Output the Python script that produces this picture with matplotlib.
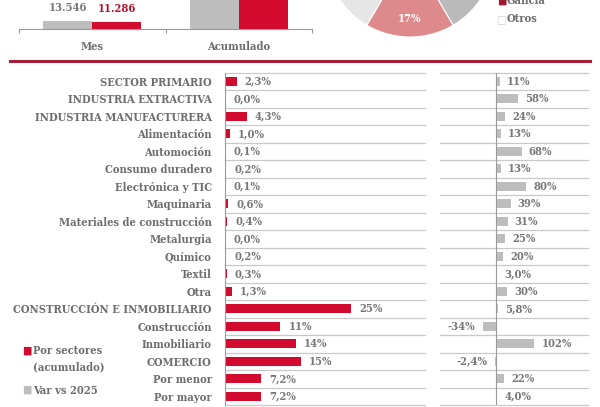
import numpy as np
import matplotlib
matplotlib.use('Agg')
import matplotlib.pyplot as plt
from matplotlib.lines import Line2D

# Bloque superior (cortado por arriba en la página)
periodos = ['Mes', 'Acumulado']
serie_gris = [13546, 98000]   # acumulado fuera de cuadro, valor estimado
serie_roja = [11286, 87000]
cuota_labels = ['Galicia', 'Resto', 'Otros']
cuota_vals = [17, 33, 50]

# Tabla por sectores
sectores = ['SECTOR PRIMARIO', 'INDUSTRIA EXTRACTIVA', 'INDUSTRIA MANUFACTURERA',
            'Alimentación', 'Automoción', 'Consumo duradero', 'Electrónica y TIC',
            'Maquinaria', 'Materiales de construcción', 'Metalurgia', 'Químico',
            'Textil', 'Otra', 'CONSTRUCCIÓN E INMOBILIARIO', 'Construcción',
            'Inmobiliario', 'COMERCIO', 'Por menor', 'Por mayor']
peso = [2.3, 0.0, 4.3, 1.0, 0.1, 0.2, 0.1, 0.6, 0.4, 0.0, 0.2, 0.3, 1.3,
        25, 11, 14, 15, 7.2, 7.2]
var_2025 = [11, 58, 24, 13, 68, 13, 80, 39, 31, 25, 20, 3.0, 30, 5.8,
            -34, 102, -2.4, 22, 4.0]

ROJO = '#d20a2e'
GRIS = '#bdbdbd'
TXT = '#6e6e6e'
LINEA = '#c9c9c9'
EJE = '#9a9a9a'

plt.rcParams['font.family'] = 'serif'
plt.rcParams['font.serif'] = ['DejaVu Serif']
plt.rcParams['font.weight'] = 'bold'
plt.rcParams['font.stretch'] = 'condensed'

W, H = 600, 407
fig = plt.figure(figsize=(6, 4.07), dpi=100)


def box(x0, y0, x1, y1):
    return [x0 / W, 1 - y1 / H, (x1 - x0) / W, (y1 - y0) / H]


def pct(v):
    if abs(v) < 10:
        return f'{v:.1f}%'.replace('.', ',')
    return f'{v:.0f}%'


def miles(v):
    return f'{v:,.0f}'.replace(',', '.')


# barras Mes / Acumulado
ax = fig.add_axes(box(19, 0, 312, 28.5))
x = np.arange(len(periodos)) + 0.5
w = 1 / 3
ax.bar(x - w / 2, serie_gris, w, color=GRIS)
ax.bar(x + w / 2, serie_roja, w, color=ROJO)
ax.set_xlim(0, 2)
ax.set_ylim(0, 51500)
for s in ['top', 'left', 'right']:
    ax.spines[s].set_visible(False)
ax.spines['bottom'].set_color(EJE)
ax.spines['bottom'].set_linewidth(0.8)
ax.set_yticks([])
ax.set_xticks([0, 1, 2])
ax.set_xticklabels([])
ax.tick_params(axis='x', which='major', length=3, color=EJE, width=0.8)
ax.set_xticks(x, minor=True)
ax.set_xticklabels(periodos, minor=True)
ax.tick_params(axis='x', which='minor', length=0, pad=9, labelsize=8, labelcolor=TXT)
ax.patch.set_alpha(0)
ax.annotate(miles(serie_gris[0]), (x[0] - w / 2, serie_gris[0]), xytext=(0, 14),
            textcoords='offset pixels', ha='center', va='center', fontsize=8, color='#777777')
ax.annotate(miles(serie_roja[0]), (x[0] + w / 2, serie_roja[0]), xytext=(0, 14),
            textcoords='offset pixels', ha='center', va='center', fontsize=8, color='#b5112c')

# tarta de cuota
axp = fig.add_axes(box(325, -133, 495, 37))
axp.pie(cuota_vals, colors=['#de8a8c', '#bababa', '#e6e6e6'],
        startangle=270 - cuota_vals[0] * 1.8,
        autopct=lambda p: f'{p:.0f}%' if p < 20 else '', pctdistance=0.78,
        wedgeprops=dict(edgecolor='white', linewidth=0.8),
        textprops=dict(color='white', fontsize=8))
axp.set_xlim(-1, 1)
axp.set_ylim(-1, 1)

fig.text(497 / W, 1 - 1 / H, '■', color='#9e1b34', fontsize=8, family='DejaVu Sans', va='center')
fig.text(507 / W, 1 - 1 / H, cuota_labels[0], color=TXT, fontsize=8, va='center')
fig.text(496 / W, 1 - 19 / H, '□', color='#cfcfcf', fontsize=8, family='DejaVu Sans', va='center')
fig.text(507 / W, 1 - 19 / H, cuota_labels[2], color=TXT, fontsize=8, va='center')

# línea granate separadora
fig.add_artist(Line2D([10 / W, 590 / W], [1 - 61 / H] * 2, color='#a3203d', lw=2.2))

n = len(sectores)
y = np.arange(n)

# panel izquierdo: peso por sectores
axl = fig.add_axes(box(225, 72.5, 425, 405))
axl.barh(y, peso, height=0.5, color=ROJO)
axl.set_xlim(0, 200 / 5.04)
axl.set_ylim(n - 0.5, -0.5)
for b in np.arange(n + 1) - 0.5:
    axl.axhline(b, color=LINEA, lw=0.9, clip_on=False, zorder=0)
for s in ['top', 'right', 'bottom']:
    axl.spines[s].set_visible(False)
axl.spines['left'].set_color(EJE)
axl.spines['left'].set_linewidth(0.8)
axl.set_xticks([])
axl.set_yticks(y, sectores)
axl.tick_params(axis='y', length=0, pad=9.5, labelsize=8, labelcolor=TXT)
for i, v in enumerate(peso):
    axl.annotate(pct(v), (v, i), xytext=(8, 0), textcoords='offset pixels',
                 ha='left', va='center', fontsize=8, color='#777777')

# panel derecho: variación vs 2025
axr = fig.add_axes(box(440, 72.5, 588, 405))
axr.barh(y, var_2025, height=0.5, color=GRIS)
axr.set_xlim(-149, 245)
axr.set_ylim(n - 0.5, -0.5)
axr.axvline(0, color=EJE, lw=0.8)
for b in np.arange(n + 1) - 0.5:
    axr.axhline(b, color=LINEA, lw=0.9, clip_on=False, zorder=0)
for s in axr.spines.values():
    s.set_visible(False)
axr.set_xticks([])
axr.set_yticks([])
for i, v in enumerate(var_2025):
    off = 7 if v >= 0 else -8
    axr.annotate(pct(v), (v, i), xytext=(off, 0), textcoords='offset pixels',
                 ha='left' if v >= 0 else 'right', va='center', fontsize=8, color='#777777')

# leyenda inferior
fig.text(22 / W, 1 - 351 / H, '■', color=ROJO, fontsize=8, family='DejaVu Sans', va='center')
fig.text(33 / W, 1 - 351 / H, 'Por sectores', color=TXT, fontsize=8, va='center')
fig.text(33 / W, 1 - 367 / H, '(acumulado)', color=TXT, fontsize=8, va='center')
fig.text(22 / W, 1 - 390 / H, '■', color=GRIS, fontsize=8, family='DejaVu Sans', va='center')
fig.text(33 / W, 1 - 390 / H, 'Var vs 2025', color=TXT, fontsize=8, va='center')

fig.savefig('out.png', dpi=100)
